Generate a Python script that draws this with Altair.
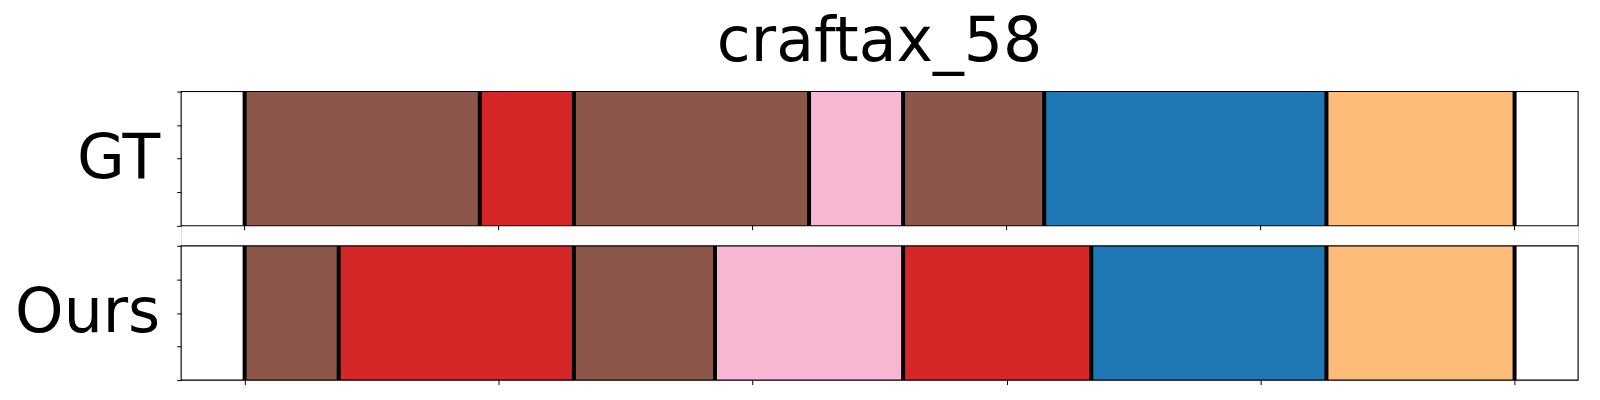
import altair as alt
import pandas as pd

# ---- data ----
panels = ["GT", "Ours"]
categories = ["brown", "red", "pink", "blue", "orange"]
category_colors = ["#8c564b", "#d62728", "#f7b6d2", "#1f77b4", "#ffbb78"]

gt_labels = ["brown", "red", "brown", "pink", "brown", "blue", "orange"]
gt_lengths = [5, 2, 5, 2, 3, 6, 4]
ours_labels = ["brown", "red", "brown", "pink", "red", "blue", "orange"]
ours_lengths = [2, 5, 3, 4, 4, 5, 4]

n_frames = 27
x_ticks = [0, 5.4, 10.8, 16.2, 21.6, 27]
x_domain = [-1.35, 28.35]
y_fracs = [0, 0.25, 0.5, 0.75, 1]
panel_gap = 0.15

# ---- build tables ----
panel_lo = {"Ours": 0.0, "GT": 1.0 + panel_gap}
seq = {"GT": (gt_labels, gt_lengths), "Ours": (ours_labels, ours_lengths)}

seg_rows, bound_rows = [], []
for p in panels:
    labs, lens = seq[p]
    lo = panel_lo[p]
    pos = 0
    bound_rows.append({"panel": p, "pos": pos, "y_lo": lo, "y_hi": lo + 1})
    for lab, ln in zip(labs, lens):
        seg_rows.append({"panel": p, "label": lab, "start": pos, "end": pos + ln,
                         "y_lo": lo, "y_hi": lo + 1})
        pos += ln
        bound_rows.append({"panel": p, "pos": pos, "y_lo": lo, "y_hi": lo + 1})
segs = pd.DataFrame(seg_rows)
bounds = pd.DataFrame(bound_rows)
frames = pd.DataFrame([{"panel": p, "x0": x_domain[0], "x1": x_domain[1],
                        "y_lo": panel_lo[p], "y_hi": panel_lo[p] + 1} for p in panels])
gt_ticks = pd.DataFrame([{"tick": t, "y": panel_lo["GT"]} for t in x_ticks])

y_values = sorted([panel_lo[p] + f for p in panels for f in y_fracs])
label_expr = " : ".join(
    f"abs(datum.value - {panel_lo[p] + 0.5}) < 0.01 ? '{p}'" for p in panels
) + " : ''"
label_test = " || ".join(f"abs(datum.value - {panel_lo[p] + 0.5}) < 0.01" for p in panels)

x_scale = alt.Scale(domain=x_domain, nice=False, zero=False)
y_scale = alt.Scale(domain=[0, 2 + panel_gap], nice=False, zero=False)
x_axis = alt.Axis(values=x_ticks, labels=False, domain=False, grid=False,
                  tickSize=4.5, tickColor="black", tickWidth=1, title=None)
y_axis = alt.Axis(values=y_values, labelExpr=label_expr, domain=False, grid=False,
                  tickSize=4.5, tickColor="black", tickWidth=1, title=None,
                  labelFontSize={"condition": {"test": label_test, "value": 62}, "value": 1},
                  labelFont="DejaVu Sans", labelColor="black",
                  labelPadding=17, labelOverlap=False, labelBound=False,
                  labelFlush=False, labelBaseline="middle")

rects = alt.Chart(segs).mark_rect().encode(
    x=alt.X("start:Q", scale=x_scale, axis=x_axis),
    x2="end:Q",
    y=alt.Y("y_lo:Q", scale=y_scale, axis=y_axis),
    y2="y_hi:Q",
    color=alt.Color("label:N", scale=alt.Scale(domain=categories, range=category_colors),
                    legend=None),
)

rules = alt.Chart(bounds).mark_rule(color="black", strokeWidth=4).encode(
    x=alt.X("pos:Q", scale=x_scale, axis=x_axis),
    y=alt.Y("y_lo:Q", scale=y_scale, axis=y_axis),
    y2="y_hi:Q",
)

frame = alt.Chart(frames).mark_rect(fillOpacity=0, stroke="black", strokeWidth=1.1).encode(
    x=alt.X("x0:Q", scale=x_scale, axis=x_axis),
    x2="x1:Q",
    y=alt.Y("y_lo:Q", scale=y_scale, axis=y_axis),
    y2="y_hi:Q",
)

gt_xticks = alt.Chart(gt_ticks).mark_rule(color="black", strokeWidth=1, y2Offset=4.5).encode(
    x=alt.X("tick:Q", scale=x_scale, axis=x_axis),
    y=alt.Y("y:Q", scale=y_scale, axis=y_axis),
    y2="y:Q",
)

chart = alt.layer(rects, rules, frame, gt_xticks).properties(
    width=1404,
    height=290,
    title=alt.TitleParams("craftax_58", fontSize=62, font="DejaVu Sans",
                          fontWeight="normal", anchor="middle", frame="group",
                          baseline="alphabetic", offset=-33, color="black"),
    autosize=alt.AutoSizeParams(type="none"),
    padding={"left": 174, "top": 83, "right": 14, "bottom": 20},
).configure_view(stroke=None).configure(background="white")

chart.save("out.html", embed_options={"renderer": "svg", "actions": False})
